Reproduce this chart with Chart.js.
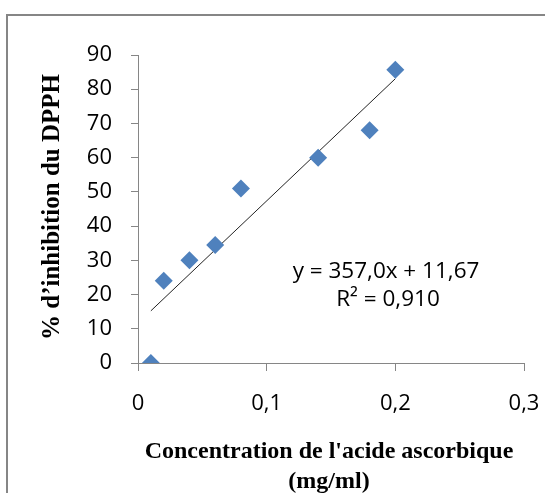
<!DOCTYPE html>
<html>
<head>
<meta charset="utf-8">
<script src="https://cdn.jsdelivr.net/npm/chart.js@4/dist/chart.umd.min.js"></script>
<style>
  html, body { margin: 0; padding: 0; background: #fff; }
  #wrap { width: 545px; height: 493px; position: relative; }
</style>
</head>
<body>
<div id="wrap"><canvas id="c" width="545" height="493"></canvas></div>
<script>
// concentrations (mg/ml) et % d'inhibition
const concentrations = [0.01, 0.02, 0.04, 0.06, 0.08, 0.14, 0.18, 0.2];
const inhibition = [0, 24, 30, 34.5, 51, 60, 68, 85.7];
// droite de tendance (extrémités)
const trendX = [0.01, 0.2];
const trendY = [15.24, 83.07];
const xTicks = [0, 0.1, 0.2, 0.3];
const yTicks = [0, 10, 20, 30, 40, 50, 60, 70, 80, 90];
const equation = ['y = 357,0x + 11,67', 'R\u00b2 = 0,910'];

const tickFont = { family: 'Open Sans', size: 22 };
const axisGrey = '#868686';

const decorations = {
  id: 'decorations',
  afterDraw(chart) {
    const c = chart.ctx;
    c.save();
    // cadre du graphique
    c.strokeStyle = axisGrey;
    c.lineWidth = 2;
    c.beginPath();
    c.moveTo(7, 493);
    c.lineTo(7, 15);
    c.lineTo(545, 15);
    c.stroke();
    // titres des axes
    c.fillStyle = '#000';
    c.textAlign = 'center';
    c.textBaseline = 'middle';
    c.font = 'bold 24px "Liberation Serif"';
    c.fillText("Concentration de l'acide ascorbique", 329, 452);
    c.fillText('(mg/ml)', 329, 482);
    c.font = 'bold 25px "Liberation Serif"';
    c.translate(53, 207);
    c.rotate(-Math.PI / 2);
    c.fillText("% d\u2019inhibition du DPPH", 0, 0);
    c.restore();
    // équation
    c.save();
    c.fillStyle = '#000';
    c.font = '22.5px "Open Sans"';
    c.textBaseline = 'middle';
    c.textAlign = 'center';
    c.fillText(equation[0], 386, 272);
    c.fillText(equation[1], 388, 300);
    c.restore();
  }
};

new Chart(document.getElementById('c'), {
  type: 'scatter',
  data: {
    datasets: [
      {
        label: 'points',
        data: concentrations.map((x, i) => ({ x, y: inhibition[i] })),
        pointStyle: 'rectRot',
        pointRadius: 9,
        pointHoverRadius: 9,
        backgroundColor: '#4F81BD',
        borderColor: '#4F81BD',
        borderWidth: 0,
        order: 1
      },
      {
        label: 'tendance',
        data: trendX.map((x, i) => ({ x, y: trendY[i] })),
        showLine: true,
        pointRadius: 0,
        borderColor: '#222',
        borderWidth: 1,
        order: 2
      }
    ]
  },
  options: {
    responsive: false,
    animation: false,
    layout: { padding: { left: 0, right: 21, top: 55, bottom: 0 } },
    plugins: { legend: { display: false }, tooltip: { enabled: false } },
    scales: {
      x: {
        type: 'linear',
        min: 0, max: 0.3,
        afterBuildTicks(s) { s.ticks = xTicks.map(v => ({ value: v })); },
        afterFit(s) { s.height = 130; s.paddingLeft = 0; s.paddingRight = 0; },
        grid: { drawOnChartArea: false, color: axisGrey, tickLength: 8 },
        border: { color: axisGrey, width: 1 },
        ticks: {
          font: tickFont, color: '#000', padding: 20, maxRotation: 0,
          callback: v => String(v).replace('.', ',')
        }
      },
      y: {
        min: 0, max: 90,
        afterBuildTicks(s) { s.ticks = yTicks.map(v => ({ value: v })); },
        afterFit(s) { s.width = 138; s.paddingTop = 0; s.paddingBottom = 0; },
        grid: { drawOnChartArea: false, color: axisGrey, tickLength: 7 },
        border: { color: axisGrey, width: 1 },
        ticks: { font: tickFont, color: '#000', padding: 19 }
      }
    }
  },
  plugins: [decorations]
});
</script>
</body>
</html>
